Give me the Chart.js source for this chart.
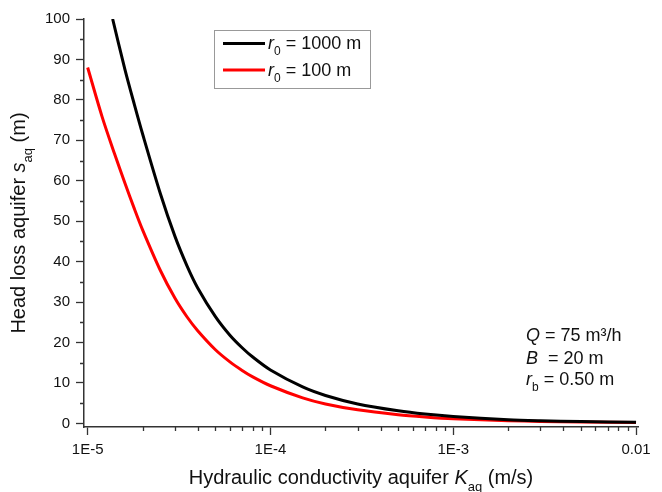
<!DOCTYPE html>
<html>
<head>
<meta charset="utf-8">
<title>Head loss aquifer</title>
<script src="https://cdn.jsdelivr.net/npm/chart.js@4.4.0/dist/chart.umd.min.js"></script>
<style>
  html, body { margin: 0; padding: 0; background: #fff; }
  #wrap { width: 662px; height: 492px; }
</style>
</head>
<body>
<div id="wrap"><canvas id="chart1" width="662" height="492"></canvas></div>
<script>
  // hydraulic conductivity K (m/s) and head loss s (m)
  const k1000 = [1.37e-5, 1.6e-5, 1.8e-5, 2e-5, 2.5e-5, 3e-5, 3.5e-5, 4e-5, 5e-5, 6e-5, 7e-5, 8e-5,
    1e-4, 1.5e-4, 2e-4, 3e-4, 5e-4, 7e-4, 1e-3, 2e-3, 3e-3, 5e-3, 1e-2];
  const s1000 = [100, 87.5, 78.9, 71.5, 56.8, 46.3, 38.9, 33.5, 26.4, 21.8, 18.7, 16.4,
    13.2, 9.0, 6.9, 4.8, 3.1, 2.3, 1.7, 0.9, 0.65, 0.45, 0.28];

  const k100 = [1e-5, 1.2e-5, 1.4e-5, 1.6e-5, 1.8e-5, 2e-5, 2.5e-5, 3e-5, 3.5e-5, 4e-5, 5e-5, 6e-5, 7e-5, 8e-5,
    1e-4, 1.5e-4, 2e-4, 3e-4, 5e-4, 7e-4, 1e-3, 2e-3, 3e-3, 5e-3, 1e-2];
  const s100 = [88, 75.8, 66.8, 59.4, 53.1, 47.8, 37.8, 31, 26.3, 22.9, 18.2, 15.2, 13.1, 11.5,
    9.3, 6.3, 4.8, 3.35, 2.15, 1.6, 1.15, 0.65, 0.48, 0.33, 0.2];

  const xMajorTicks = [1e-5, 1e-4, 1e-3, 1e-2];
  const xTickLabels = ["1E-5", "1E-4", "1E-3", "0.01"];
  const xMinorTicks = [2e-5, 3e-5, 4e-5, 5e-5, 6e-5, 7e-5, 8e-5, 9e-5,
    2e-4, 3e-4, 4e-4, 5e-4, 6e-4, 7e-4, 8e-4, 9e-4,
    2e-3, 3e-3, 4e-3, 5e-3, 6e-3, 7e-3, 8e-3, 9e-3];
  const yMajorTicks = [0, 10, 20, 30, 40, 50, 60, 70, 80, 90, 100];
  const yMinorTicks = [5, 15, 25, 35, 45, 55, 65, 75, 85, 95];

  const FONT = '"Liberation Sans", Arial, sans-serif';
  const AXIS = "#333333";

  // draw a run of text pieces: [text, style] with style "" / "i" / "sub"
  function drawRich(ctx, x, y, parts, size, measureOnly) {
    let cx = x;
    parts.forEach((p) => {
      const sub = p[1] === "sub";
      const fs = sub ? Math.round(size * 0.65) : size;
      ctx.font = (p[1] === "i" ? "italic " : "") + fs + "px " + FONT;
      if (!measureOnly) ctx.fillText(p[0], cx, sub ? y + size * 0.36 : y);
      cx += ctx.measureText(p[0]).width;
    });
    return cx - x;
  }

  const labelsPlugin = {
    id: "labelsPlugin",
    afterDraw(chart) {
      const ctx = chart.ctx;
      const xs = chart.scales.x;
      const ys = chart.scales.y;
      const area = chart.chartArea;
      ctx.save();

      // minor ticks
      ctx.strokeStyle = AXIS;
      ctx.lineWidth = 1.3;
      ctx.beginPath();
      xMinorTicks.forEach((v) => {
        const px = Math.round(xs.getPixelForValue(v)) + 0.5;
        ctx.moveTo(px, area.bottom);
        ctx.lineTo(px, area.bottom + 4);
      });
      yMinorTicks.forEach((v) => {
        const py = Math.round(ys.getPixelForValue(v)) + 0.5;
        ctx.moveTo(area.left, py);
        ctx.lineTo(area.left - 4, py);
      });
      ctx.stroke();

      ctx.fillStyle = "#111";
      ctx.textBaseline = "alphabetic";

      // x title
      const xt = [["Hydraulic conductivity aquifer ", ""], ["K", "i"], ["aq", "sub"], [" (m/s)", ""]];
      const xw = drawRich(ctx, 0, 0, xt, 20, true);
      drawRich(ctx, (area.left + area.right) / 2 - xw / 2, 484, xt, 20);

      // y title (rotated)
      const yt = [["Head loss aquifer ", ""], ["s", "i"], ["aq", "sub"], [" (m)", ""]];
      const yw = drawRich(ctx, 0, 0, yt, 20, true);
      ctx.save();
      ctx.translate(25, (area.top + area.bottom) / 2);
      ctx.rotate(-Math.PI / 2);
      drawRich(ctx, -yw / 2, 0, yt, 20);
      ctx.restore();

      // legend box
      ctx.strokeStyle = "#999";
      ctx.lineWidth = 1;
      ctx.strokeRect(214.5, 30.5, 156, 58);
      const rows = [
        [chart.data.datasets[0], [["r", "i"], ["0", "sub"], [" = 1000 m", ""]], 49],
        [chart.data.datasets[1], [["r", "i"], ["0", "sub"], [" = 100 m", ""]], 75.5]
      ];
      rows.forEach((r) => {
        ctx.strokeStyle = r[0].borderColor;
        ctx.lineWidth = 3;
        ctx.beginPath();
        ctx.moveTo(223, r[2] - 5.5);
        ctx.lineTo(265, r[2] - 5.5);
        ctx.stroke();
        drawRich(ctx, 268, r[2], r[1], 18);
      });

      // parameters
      drawRich(ctx, 526, 341, [["Q", "i"], [" = 75 m³/h", ""]], 18);
      drawRich(ctx, 526, 363.5, [["B", "i"], ["  = 20 m", ""]], 18);
      drawRich(ctx, 526, 385, [["r", "i"], ["b", "sub"], [" = 0.50 m", ""]], 18);

      ctx.restore();
    }
  };

  charit();

  function charit() {
    const ctx = document.getElementById("chart1").getContext("2d");

    const myChart = new Chart(ctx, {
      type: "line",
      data: {
        datasets: [
          {
            label: "r0 = 1000 m",
            data: k1000.map((k, i) => ({ x: k, y: s1000[i] })),
            borderColor: "#000000",
            borderWidth: 3,
            pointRadius: 0,
            tension: 0.3,
            fill: false
          },
          {
            label: "r0 = 100 m",
            data: k100.map((k, i) => ({ x: k, y: s100[i] })),
            borderColor: "#ff0000",
            borderWidth: 3,
            pointRadius: 0,
            tension: 0.3,
            fill: false
          }
        ]
      },
      options: {
        responsive: false,
        animation: false,
        layout: { padding: { top: 19, right: 24, left: 0, bottom: 0 } },
        plugins: {
          legend: { display: false },
          tooltip: { enabled: false }
        },
        scales: {
          x: {
            type: "logarithmic",
            min: 9.55e-6,
            max: 1.025e-2,
            afterBuildTicks: (scale) => {
              scale.ticks = xMajorTicks.map((v) => ({ value: v }));
            },
            afterFit: (scale) => { scale.height = 65; },
            ticks: {
              autoSkip: false,
              maxRotation: 0,
              padding: 6,
              color: "#111",
              font: { family: FONT, size: 15 },
              callback: (value, index) => xTickLabels[index]
            },
            grid: { drawOnChartArea: false, drawTicks: true, tickLength: 8, tickColor: AXIS, tickWidth: 1.3 },
            border: { display: true, color: AXIS, width: 1.5 }
          },
          y: {
            min: -0.9,
            max: 100,
            afterBuildTicks: (scale) => {
              scale.ticks = yMajorTicks.map((v) => ({ value: v }));
            },
            afterFit: (scale) => { scale.width = 84; },
            ticks: {
              autoSkip: false,
              padding: 6,
              color: "#111",
              font: { family: FONT, size: 15 },
              callback: (value) => String(value)
            },
            grid: { drawOnChartArea: false, drawTicks: true, tickLength: 8, tickColor: AXIS, tickWidth: 1.3 },
            border: { display: true, color: AXIS, width: 1.5 }
          }
        }
      },
      plugins: [labelsPlugin]
    });
  }
</script>
</body>
</html>
